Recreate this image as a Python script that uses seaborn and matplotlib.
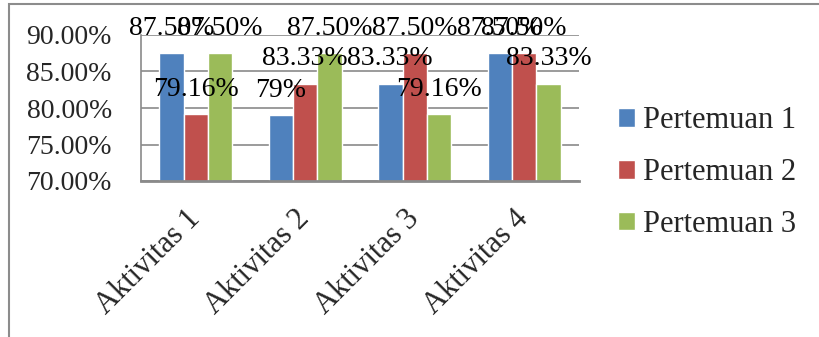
import matplotlib
matplotlib.use("Agg")
import matplotlib.pyplot as plt
from matplotlib.patches import Rectangle
import seaborn as sns
import pandas as pd

categories = ["Aktivitas 1", "Aktivitas 2", "Aktivitas 3", "Aktivitas 4"]
series_names = ["Pertemuan 1", "Pertemuan 2", "Pertemuan 3"]
pertemuan_1 = [87.50, 79.00, 83.33, 87.50]
pertemuan_2 = [79.16, 83.33, 87.50, 87.50]
pertemuan_3 = [87.50, 87.50, 79.16, 83.33]
labels_1 = ["87.50%", "79%", "83.33%", "87.50%"]
labels_2 = ["79.16%", "83.33%", "87.50%", "87.50%"]
labels_3 = ["87.50%", "87.50%", "79.16%", "83.33%"]
y_ticks = [70, 75, 80, 85, 90]

colors = ["#4F81BD", "#C0504D", "#9BBB59"]

df = pd.DataFrame({
    "Aktivitas": categories * 3,
    "Pertemuan": [s for s in series_names for _ in categories],
    "Nilai": pertemuan_1 + pertemuan_2 + pertemuan_3,
})

sns.set_theme(style="white")
plt.rcParams["font.family"] = ["Liberation Serif", "DejaVu Serif"]

fig = plt.figure(figsize=(8.19, 3.37), dpi=100)
ax = fig.add_axes([141 / 819, 1 - 181 / 337, (579 - 141) / 819, (181 - 35) / 337])

sns.barplot(data=df, x="Aktivitas", y="Nilai", hue="Pertemuan",
            order=categories, hue_order=series_names, palette=colors,
            width=0.67, saturation=1, ax=ax, legend=True)

ax.set_ylim(70, 90)
ax.set_yticks(y_ticks)
ax.set_yticklabels([f"{v:.2f}%" for v in y_ticks], fontsize=20)
ax.set_xlabel("")
ax.set_ylabel("")
ax.yaxis.grid(True, color="#8a8a8a", linewidth=1.2)
ax.set_axisbelow(True)
ax.tick_params(axis="y", length=0, pad=21)
ax.tick_params(axis="x", length=0, pad=24)
for lbl in ax.get_xticklabels():
    lbl.set_rotation(45)
    lbl.set_ha("right")
    lbl.set_va("center")
    lbl.set_rotation_mode("anchor")
    lbl.set_fontsize(22)

for side in ["top", "right"]:
    ax.spines[side].set_visible(False)
ax.spines["left"].set_color("#8a8a8a")
ax.spines["left"].set_linewidth(1.2)
ax.spines["bottom"].set_color("#8a8a8a")
ax.spines["bottom"].set_linewidth(2)

for container, texts in zip(ax.containers, [labels_1, labels_2, labels_3]):
    ax.bar_label(container, labels=texts, padding=9, fontsize=20, color="black")

handles, names = ax.get_legend_handles_labels()
ax.legend(handles, names, loc="center left", bbox_to_anchor=(618 / 819, 1 - 172.5 / 337),
          bbox_transform=fig.transFigure, frameon=False, fontsize=22,
          handlelength=0.56, handleheight=0.56, handletextpad=0.25,
          labelspacing=0.75, borderpad=0, borderaxespad=0)

fig.patches.append(Rectangle((9 / 819, -0.2), 1.5, 1.2 - 4 / 337,
                             transform=fig.transFigure, fill=False,
                             edgecolor="#8c8c8c", linewidth=1.5))

fig.savefig("out.png", dpi=100)
